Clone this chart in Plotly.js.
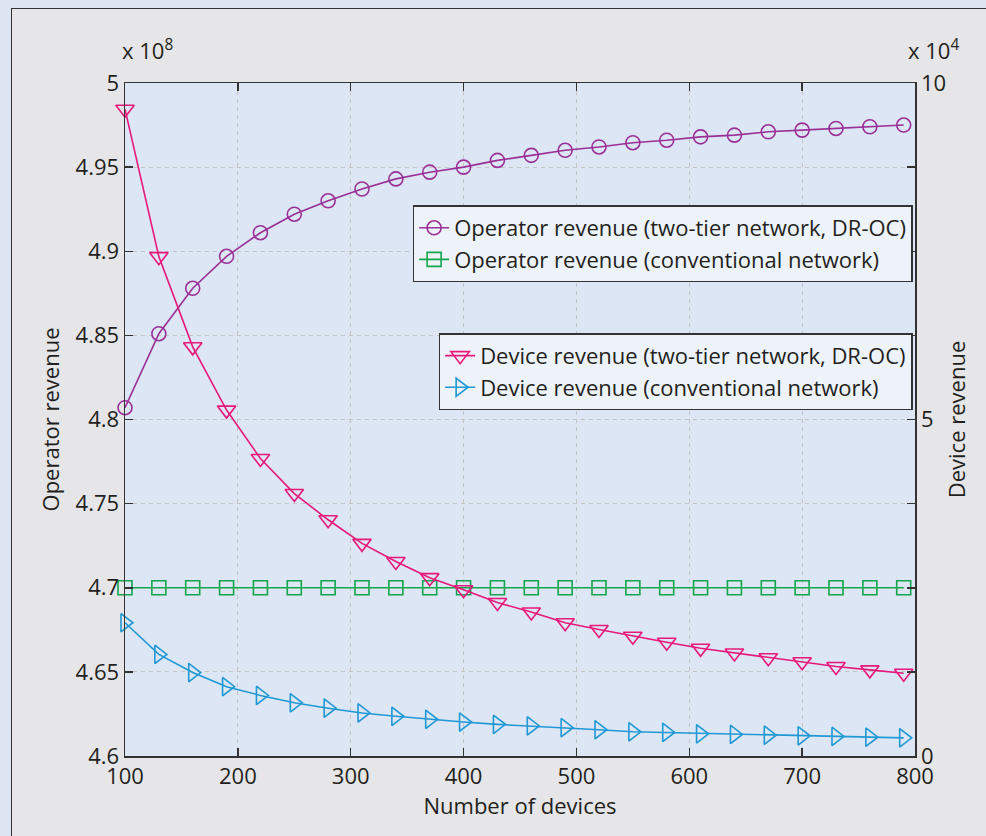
<!DOCTYPE html>
<html>
<head>
<meta charset="utf-8">
<script src="https://cdn.plot.ly/plotly-3.0.1.min.js"></script>
<style>
  html, body { margin: 0; padding: 0; background: #dde6f2; width: 986px; height: 836px; overflow: hidden; }
  #chart { position: absolute; left: 11px; top: 8px; width: 975px; height: 828px;
           border-top: 1.5px solid #333; border-left: 1.5px solid #333; box-sizing: border-box; }
</style>
</head>
<body>
<div id="chart"></div>
<script>
// ---- data ----
const devices = [100,130,160,190,220,250,280,310,340,370,400,430,460,490,520,550,580,610,640,670,700,730,760,790];

// operator revenue (x10^8), left axis
const opTwoTier = [4.807,4.851,4.878,4.897,4.911,4.922,4.930,4.937,4.943,4.947,4.950,4.954,4.957,4.960,4.962,4.9645,4.966,4.968,4.969,4.971,4.972,4.973,4.974,4.975];
const opConventional = [4.7,4.7,4.7,4.7,4.7,4.7,4.7,4.7,4.7,4.7,4.7,4.7,4.7,4.7,4.7,4.7,4.7,4.7,4.7,4.7,4.7,4.7,4.7,4.7];

// device revenue (x10^4), right axis
const devTwoTier = [9.61,7.42,6.08,5.14,4.42,3.90,3.51,3.16,2.89,2.65,2.47,2.28,2.14,1.98,1.88,1.78,1.69,1.60,1.53,1.46,1.40,1.33,1.28,1.23];
const devConventional = [1.98,1.51,1.24,1.03,0.90,0.79,0.71,0.64,0.59,0.545,0.505,0.47,0.446,0.42,0.39,0.36,0.35,0.33,0.32,0.31,0.30,0.29,0.28,0.27];

const seriesNames = [
  "Operator revenue (two-tier network, DR-OC)",
  "Operator revenue (conventional network)",
  "Device revenue (two-tier network, DR-OC)",
  "Device revenue (conventional network)"
];

const xTickVals = [100,200,300,400,500,600,700,800];
const xTickText = ["100","200","300","400","500","600","700","800"];
const yLeftTickVals = [4.6,4.65,4.7,4.75,4.8,4.85,4.9,4.95,5];
const yLeftTickText = ["4.6","4.65","4.7","4.75","4.8","4.85","4.9","4.95","5"];
const yRightTickVals = [0,1.25,2.5,3.75,5,6.25,7.5,8.75,10];
const yRightTickText = ["0","","","","5","","","","10"];

// ---- styles ----
const FONT = "Open Sans, Noto Sans, DejaVu Sans, sans-serif";
const TXT = "#231f20";
const C_PURPLE = "#9a2f97";
const C_GREEN = "#12a54b";
const C_PINK = "#e8187a";
const C_BLUE = "#1f98d5";

function tr(y, name, color, symbol, size, yaxis, legend) {
  return {
    x: devices, y: y, name: name, type: "scatter", mode: "lines+markers",
    yaxis: yaxis, legend: legend, cliponaxis: false,
    line: { color: color, width: 1.6 },
    marker: { symbol: symbol, size: size, color: color, line: { color: color, width: 1.6 } }
  };
}

const data = [
  tr(opTwoTier, seriesNames[0], C_PURPLE, "circle-open", 14, "y", "legend"),
  tr(opConventional, seriesNames[1], C_GREEN, "square-open", 14, "y", "legend"),
  tr(devTwoTier, seriesNames[2], C_PINK, "triangle-down-open", 16, "y2", "legend2"),
  tr(devConventional, seriesNames[3], C_BLUE, "triangle-right-open", 16, "y2", "legend2")
];

const axisCommon = {
  showline: true, linecolor: "#333", linewidth: 1.5,
  ticks: "inside", ticklen: 8, tickwidth: 1.5, tickcolor: "#333",
  tickfont: { family: FONT, size: 22, color: TXT },
  zeroline: false
};

const legendCommon = {
  xanchor: "right", yanchor: "top",
  bgcolor: "#eef3fa", bordercolor: "#333", borderwidth: 1.5,
  font: { family: FONT, size: 22, color: TXT },
  itemsizing: "trace", tracegroupgap: 0
};

const gridStyle = { showgrid: true, gridcolor: "#c4c4c4", griddash: "4px,4px", gridwidth: 1.2 };

const layout = {
  width: 975, height: 828,
  margin: { l: 113, r: 72, t: 74, b: 81 },
  paper_bgcolor: "#e6e6e8",
  plot_bgcolor: "#dce6f4",
  font: { family: FONT, color: TXT },
  showlegend: true,
  xaxis: Object.assign({}, axisCommon, gridStyle, {
    range: [100, 800], tickvals: xTickVals, ticktext: xTickText,
    mirror: "ticks",
    title: { text: "Number of devices", font: { family: FONT, size: 22, color: TXT }, standoff: 6 }
  }),
  yaxis: Object.assign({}, axisCommon, gridStyle, {
    range: [4.6, 5], tickvals: yLeftTickVals, ticktext: yLeftTickText,
    mirror: true,
    title: { text: "Operator revenue", font: { family: FONT, size: 22, color: TXT }, standoff: 10 }
  }),
  yaxis2: Object.assign({}, axisCommon, {
    range: [0, 10], tickvals: yRightTickVals, ticktext: yRightTickText,
    overlaying: "y", side: "right", showgrid: false,
    title: { text: "Device revenue", font: { family: FONT, size: 22, color: TXT }, standoff: 4 }
  }),
  legend: Object.assign({}, legendCommon, { x: 0.997, y: 0.818 }),
  legend2: Object.assign({}, legendCommon, { x: 0.997, y: 0.628 }),
  annotations: [
    { xref: "paper", yref: "paper", x: 0.028, y: 1.05, xanchor: "center", yanchor: "middle",
      text: "x 10<sup>8</sup>", showarrow: false, font: { family: FONT, size: 22, color: TXT } },
    { xref: "paper", yref: "paper", x: 1.024, y: 1.05, xanchor: "center", yanchor: "middle",
      text: "x 10<sup>4</sup>", showarrow: false, font: { family: FONT, size: 22, color: TXT } }
  ]
};

Plotly.newPlot("chart", data, layout, { displayModeBar: false, staticPlot: true });
</script>
</body>
</html>
